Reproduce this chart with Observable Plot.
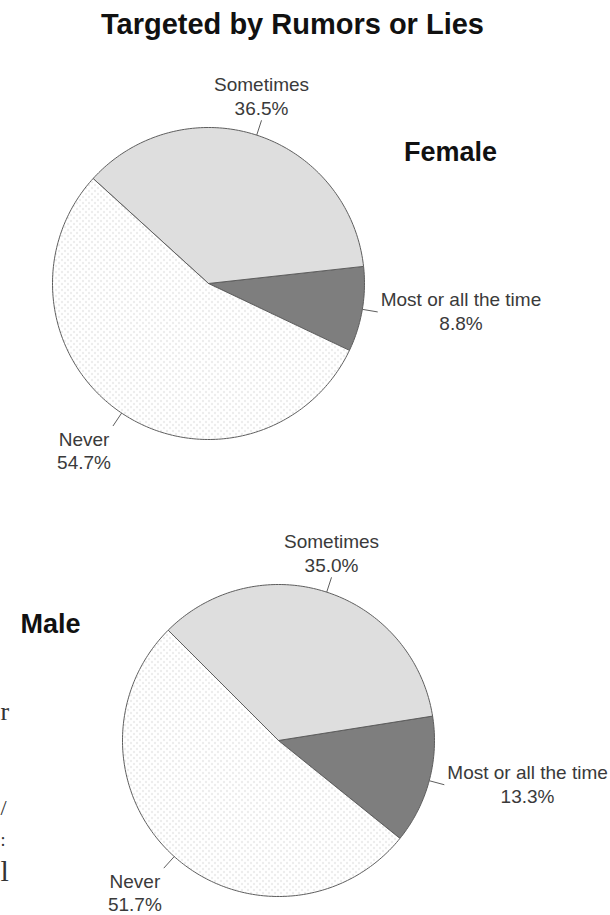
<!DOCTYPE html>
<html><head><meta charset="utf-8">
<script src="https://cdn.jsdelivr.net/npm/d3@7"></script>
<script src="https://cdn.jsdelivr.net/npm/@observablehq/plot@0.6"></script>
<style>body{margin:0;background:#fff;} #chart{width:610px;height:915px;overflow:hidden;}</style>
</head><body><div id="chart"></div>
<script>
// ---- data ----
const title = "Targeted by Rumors or Lies";
const groups = ["Female", "Male"];
const categories = ["Most or all the time", "Sometimes", "Never"];
const femaleValues = [8.8, 36.5, 54.7];
const maleValues = [13.3, 35.0, 51.7];
const marginFragments = ["r", "/", ":", "l"]; // glyph fragments of neighbouring page text at the left edge

// ---- layout / style ----
const W = 610, H = 915, R = 156;
const FONT = "'Liberation Sans', Arial, Helvetica, sans-serif";
const LABEL_SIZE = 19, LH = 23.5;
const layout = {
  Female: {cx: 208, cy: 283, nameX: 450, nameY: 152, anchor: "middle"},
  Male:   {cx: 278, cy: 740, nameX: 20,  nameY: 624, anchor: "start"}
};
const fills = ["#7e7e7e", "#dedede", "url(#dots)"];
const SOMETIMES_MID_DEG = 72;
const fragPos = [{x: 0, y: 711, size: 26}, {x: 0, y: 807, size: 22}, {x: 0, y: 840, size: 18}, {x: 0, y: 871, size: 30}];

const ctx = document.createElement("canvas").getContext("2d");
ctx.font = `${LABEL_SIZE}px ${FONT}`;
const measure = s => ctx.measureText(s).width;

const polyRows = [], linkRows = [], textRows = [];
const valuesOf = {Female: femaleValues, Male: maleValues};
for (const g of groups) {
  const vals = valuesOf[g];
  const {cx, cy} = layout[g];
  let a = SOMETIMES_MID_DEG - (vals[1] / 2 + vals[0]) * 3.6;
  vals.forEach((v, i) => {
    const a0 = a, a1 = a + v * 3.6; a = a1;
    const key = g + "-" + i, fill = fills[i];
    polyRows.push({x: cx, y: cy, key, fill});
    const n = Math.ceil(a1 - a0);
    for (let k = 0; k <= n; k++) {
      const t = (a0 + (a1 - a0) * k / n) * Math.PI / 180;
      polyRows.push({x: cx + R * Math.cos(t), y: cy - R * Math.sin(t), key, fill});
    }
    polyRows.push({x: cx, y: cy, key, fill});
    const m = (a0 + a1) / 2 * Math.PI / 180, c = Math.cos(m), s = Math.sin(m);
    linkRows.push({x1: cx + R * c, y1: cy - R * s, x2: cx + 1.1 * R * c, y2: cy - 1.1 * R * s});
    const px = cx + 1.1 * R * c, py = cy - 1.1 * R * s;
    const lines = [categories[i], v.toFixed(1) + "%"];
    const w = Math.max(...lines.map(measure));
    const bx = Math.abs(c) < 0.4 ? px : c > 0 ? px + 3 + w / 2 : px - 2 - w / 2;
    const y0 = s > 0.6 ? py - 11.5 - LH : s < -0.6 ? py + 13.5 : py - LH / 2;
    lines.forEach((t, j) => textRows.push({x: bx, y: y0 + j * LH, text: t}));
  });
}
const nameRows = groups.map(g => ({text: g, x: layout[g].nameX, y: layout[g].nameY, anchor: layout[g].anchor}));
const fragRows = marginFragments.map((t, i) => ({text: t, ...fragPos[i]}));

const chart = Plot.plot({
  width: W, height: H, margin: 0,
  x: {domain: [0, W], range: [0, W], axis: null},
  y: {domain: [0, H], range: [0, H], axis: null},
  color: {type: "identity"},
  style: {fontFamily: FONT, background: "#fff"},
  marks: [
    Plot.line(polyRows, {x: "x", y: "y", z: "key", fill: "fill", stroke: "#5e5e5e", strokeWidth: 1, strokeLinejoin: "round"}),
    Plot.link(linkRows, {x1: "x1", y1: "y1", x2: "x2", y2: "y2", stroke: "#5e5e5e", strokeWidth: 1}),
    Plot.text(textRows, {x: "x", y: "y", text: "text", textAnchor: "middle", lineAnchor: "middle", fontSize: LABEL_SIZE, fill: "#3a3a3a"}),
    Plot.text([title], {x: 292, y: 24.5, text: d => d, textAnchor: "middle", lineAnchor: "middle", fontSize: 29, fontWeight: "bold", fill: "#111"}),
    Plot.text(nameRows.filter(d => d.anchor === "middle"), {x: "x", y: "y", text: "text", textAnchor: "middle", lineAnchor: "middle", fontSize: 27, fontWeight: "bold", fill: "#111"}),
    Plot.text(nameRows.filter(d => d.anchor === "start"), {x: "x", y: "y", text: "text", textAnchor: "start", lineAnchor: "middle", fontSize: 27, fontWeight: "bold", fill: "#111"}),
    ...fragRows.map(d => Plot.text([d], {x: "x", y: "y", text: "text", textAnchor: "start", lineAnchor: "middle", fontSize: d.size, fontFamily: "'Liberation Serif', serif", fill: "#333"}))
  ]
});

const svg = d3.select(chart);
const defs = svg.insert("defs", ":first-child");
const pat = defs.append("pattern").attr("id", "dots").attr("patternUnits", "userSpaceOnUse").attr("width", 6).attr("height", 6);
pat.append("rect").attr("width", 6).attr("height", 6).attr("fill", "#fff");
pat.append("circle").attr("cx", 1.5).attr("cy", 1.5).attr("r", 0.65).attr("fill", "#c4c4c4");
pat.append("circle").attr("cx", 4.5).attr("cy", 4.5).attr("r", 0.65).attr("fill", "#c4c4c4");
document.getElementById("chart").appendChild(chart);
</script>
</body></html>
